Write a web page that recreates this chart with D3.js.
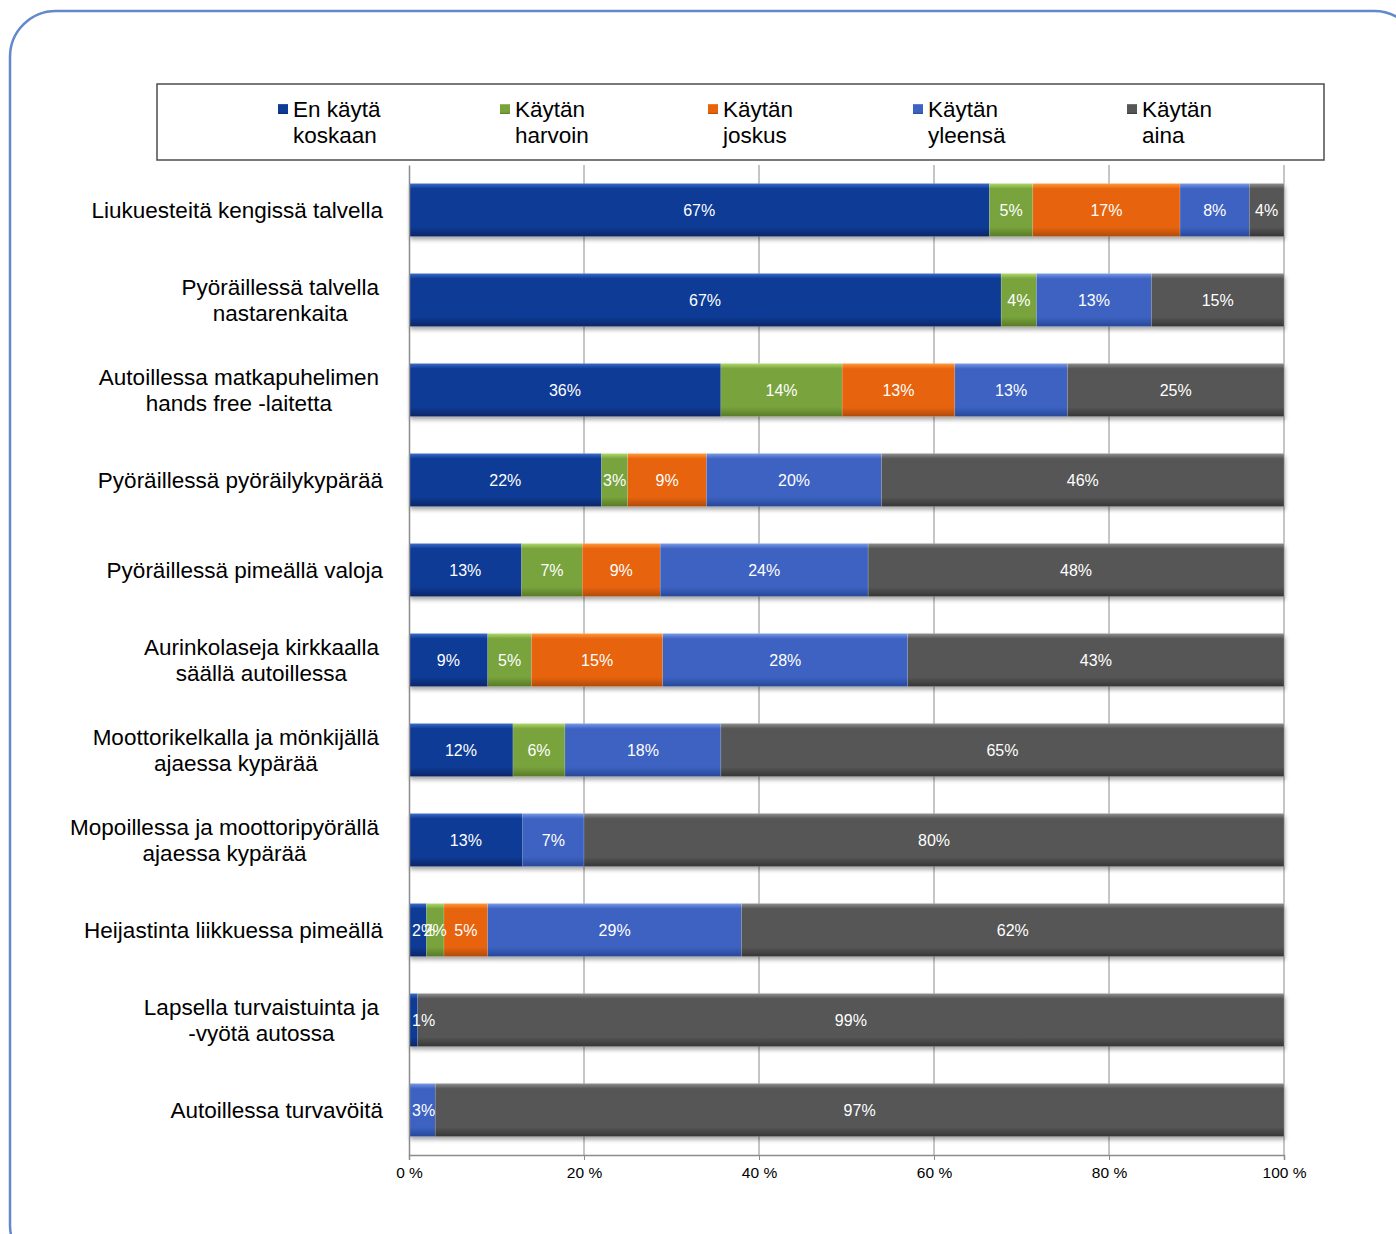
<!DOCTYPE html>
<html>
<head>
<meta charset="utf-8">
<script src="https://cdn.jsdelivr.net/npm/d3@7"></script>
<style>
  html, body { margin: 0; padding: 0; background: #ffffff; }
  svg { display: block; font-family: "Liberation Sans", Arial, sans-serif; }
</style>
</head>
<body>
<svg id="chart" width="1396" height="1234"></svg>
<script>
// Survey: how often safety equipment is used (share of respondents, %)
const categories = [
  ["Liukuesteitä kengissä talvella"],
  ["Pyöräillessä talvella", "nastarenkaita"],
  ["Autoillessa matkapuhelimen", "hands free -laitetta"],
  ["Pyöräillessä pyöräilykypärää"],
  ["Pyöräillessä pimeällä valoja"],
  ["Aurinkolaseja kirkkaalla", "säällä autoillessa"],
  ["Moottorikelkalla ja mönkijällä", "ajaessa kypärää"],
  ["Mopoillessa ja moottoripyörällä", "ajaessa kypärää"],
  ["Heijastinta liikkuessa pimeällä"],
  ["Lapsella turvaistuinta ja", "-vyötä autossa"],
  ["Autoillessa turvavöitä"]
];
const seriesNames = ["En käytä koskaan", "Käytän harvoin", "Käytän joskus", "Käytän yleensä", "Käytän aina"];
const legendLines = [["En käytä", "koskaan"], ["Käytän", "harvoin"], ["Käytän", "joskus"], ["Käytän", "yleensä"], ["Käytän", "aina"]];

const neverUse  = [67, 67, 36, 22, 13,  9, 12, 13,  2,  1,  0];
const rarely    = [ 5,  4, 14,  3,  7,  5,  6,  0,  2,  0,  0];
const sometimes = [17,  0, 13,  9,  9, 15,  0,  0,  5,  0,  0];
const usually   = [ 8, 13, 13, 20, 24, 28, 18,  7, 29,  0,  3];
const always    = [ 4, 15, 25, 46, 48, 43, 65, 80, 62, 99, 97];

const tickValues = [0, 0.2, 0.4, 0.6, 0.8, 1];
const tickLabels = ["0 %", "20 %", "40 %", "60 %", "80 %", "100 %"];

// colour ramps per series: [top highlight, body, bottom shade]
const palette = [
  ["#3c6cc8", "#0e3b96", "#072666"],
  ["#b0d86a", "#78a33c", "#587a26"],
  ["#ff9a3c", "#e8640c", "#b04a06"],
  ["#7b9be6", "#3c62c2", "#284898"],
  ["#8e8e8e", "#565656", "#363636"]
];

const rows = categories.map((c, i) => ({
  key: c.join(" "),
  lines: c,
  [seriesNames[0]]: neverUse[i],
  [seriesNames[1]]: rarely[i],
  [seriesNames[2]]: sometimes[i],
  [seriesNames[3]]: usually[i],
  [seriesNames[4]]: always[i]
}));

const svg = d3.select("#chart");
const defs = svg.append("defs");

palette.forEach((p, i) => {
  const g = defs.append("linearGradient").attr("id", "grad" + i)
    .attr("x1", 0).attr("y1", 0).attr("x2", 0).attr("y2", 1);
  g.append("stop").attr("offset", "0").attr("stop-color", p[0]);
  g.append("stop").attr("offset", "0.1").attr("stop-color", p[1]);
  g.append("stop").attr("offset", "0.82").attr("stop-color", p[1]);
  g.append("stop").attr("offset", "1").attr("stop-color", p[2]);
});

const shadow = defs.append("filter").attr("id", "shadow")
  .attr("x", "-5%").attr("y", "-20%").attr("width", "110%").attr("height", "150%");
shadow.append("feGaussianBlur").attr("in", "SourceAlpha").attr("stdDeviation", 2).attr("result", "b");
shadow.append("feOffset").attr("in", "b").attr("dx", 1).attr("dy", 3).attr("result", "o");
shadow.append("feComponentTransfer").attr("in", "o").attr("result", "s")
  .append("feFuncA").attr("type", "linear").attr("slope", 0.35);
const merge = shadow.append("feMerge");
merge.append("feMergeNode").attr("in", "s");
merge.append("feMergeNode").attr("in", "SourceGraphic");

// outer rounded frame
svg.append("rect")
  .attr("x", 10).attr("y", 11).attr("width", 1410).attr("height", 1260)
  .attr("rx", 46).attr("ry", 46)
  .attr("fill", "none").attr("stroke", "#6189cc").attr("stroke-width", 2.5);

const plot = { left: 409, right: 1284, top: 165, bottom: 1155 };

const x = d3.scaleLinear().domain([0, 1]).range([plot.left, plot.right]);
const y = d3.scaleBand().domain(rows.map(d => d.key))
  .range([plot.top, plot.bottom]).paddingInner(0.41).paddingOuter(0.205);

const stack = d3.stack().keys(seriesNames).offset(d3.stackOffsetExpand);
const stacked = stack(rows);

// gridlines
svg.append("g").selectAll("line").data(tickValues.slice(1)).join("line")
  .attr("x1", d => x(d)).attr("x2", d => x(d))
  .attr("y1", plot.top).attr("y2", plot.bottom)
  .attr("stroke", "#8c8c8c").attr("stroke-width", 1);

// bars
const barLayer = svg.append("g");
rows.forEach((r, ri) => {
  const g = barLayer.append("g").attr("filter", "url(#shadow)");
  stacked.forEach((s, si) => {
    const d = s[ri];
    if (d[1] - d[0] <= 0) return;
    g.append("rect")
      .attr("x", x(d[0])).attr("y", y(r.key))
      .attr("width", x(d[1]) - x(d[0])).attr("height", y.bandwidth())
      .attr("fill", `url(#grad${si})`)
      .attr("stroke", "rgba(255,255,255,0.25)").attr("stroke-width", 0.6);
  });
});

// value labels, centred on their segment but kept inside the plot area
const valueLayer = svg.append("g").attr("font-size", 16).attr("fill", "#ffffff");
rows.forEach((r, ri) => {
  stacked.forEach((s, si) => {
    const d = s[ri];
    const v = r[s.key];
    if (!v) return;
    const t = valueLayer.append("text")
      .attr("y", y(r.key) + y.bandwidth() / 2 + 6)
      .attr("text-anchor", "middle")
      .text(v + "%");
    const w = t.node().getComputedTextLength();
    const cx = Math.max((x(d[0]) + x(d[1])) / 2, plot.left + 3 + w / 2);
    t.attr("x", cx);
  });
});

// axes
const xAxis = d3.axisBottom(x).tickValues(tickValues)
  .tickFormat((d, i) => tickLabels[i]).tickSize(5).tickPadding(7);
const gx = svg.append("g").attr("transform", `translate(0,${plot.bottom})`).call(xAxis);
gx.select(".domain").attr("stroke", "#8c8c8c").attr("stroke-width", 1.5);
gx.selectAll(".tick line").attr("stroke", "#8c8c8c");
gx.selectAll(".tick text").attr("font-size", 15.5).attr("fill", "#000")
  .attr("font-family", "'Liberation Sans', Arial, sans-serif");

const yAxis = d3.axisLeft(y).tickSize(0).tickFormat("");
const gy = svg.append("g").attr("transform", `translate(${plot.left},0)`).call(yAxis);
gy.select(".domain").attr("stroke", "#8c8c8c").attr("stroke-width", 1.5);

// category labels: multi-line blocks, right-aligned, lines centred inside block
const catLayer = svg.append("g").attr("font-size", 22.5).attr("fill", "#000");
rows.forEach(r => {
  const cy = y(r.key) + y.bandwidth() / 2;
  const tmp = r.lines.map(l => catLayer.append("text").text(l));
  const maxW = d3.max(tmp, t => t.node().getComputedTextLength());
  const right = r.lines.length > 1 ? 379 : 383;
  const cx = right - maxW / 2;
  const lh = 26;
  const y0 = cy - (r.lines.length - 1) * lh / 2 + 8;
  tmp.forEach((t, i) => t.attr("x", cx).attr("y", y0 + i * lh).attr("text-anchor", "middle"));
});

// legend
svg.append("rect").attr("x", 157).attr("y", 84).attr("width", 1167).attr("height", 76)
  .attr("fill", "#fff").attr("stroke", "#4d4d4d").attr("stroke-width", 1.5);
const legendX = [278, 500, 708, 913, 1127];
const lg = svg.append("g");
seriesNames.forEach((s, i) => {
  lg.append("rect").attr("x", legendX[i]).attr("y", 104).attr("width", 10).attr("height", 10)
    .attr("fill", `url(#grad${i})`);
  const t = lg.append("text").attr("font-size", 22.5).attr("fill", "#000");
  legendLines[i].forEach((l, j) => {
    t.append("tspan").attr("x", legendX[i] + 15).attr("y", 117 + j * 26).text(l);
  });
});
</script>
</body>
</html>
